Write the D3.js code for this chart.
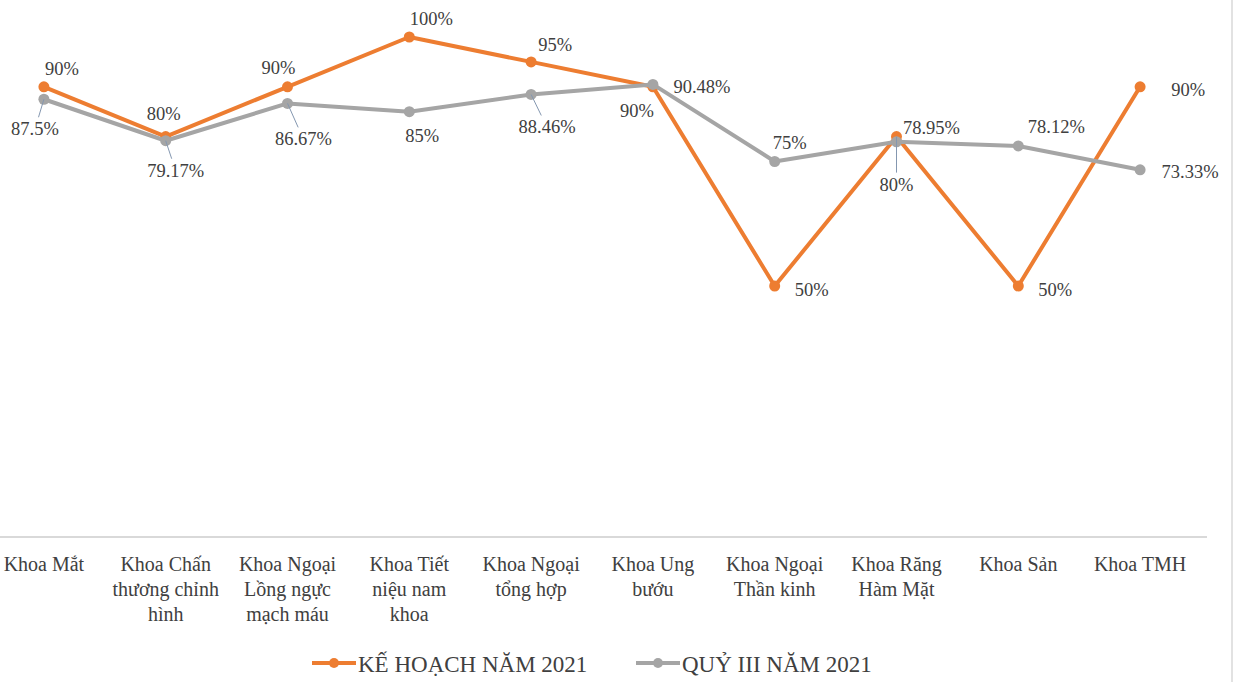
<!DOCTYPE html>
<html>
<head>
<meta charset="utf-8">
<script src="https://cdn.jsdelivr.net/npm/d3@7"></script>
<style>
  body { margin: 0; background: #fff; }
  text { font-family: "Liberation Serif", serif; }
</style>
</head>
<body>
<svg id="chart" width="1237" height="682"></svg>
<script>
var w = 1237, h = 682;

// data
var categories = ["Khoa Mắt", "Khoa Chấn thương chỉnh hình", "Khoa Ngoại Lồng ngực mạch máu",
  "Khoa Tiết niệu nam khoa", "Khoa Ngoại tổng hợp", "Khoa Ung bướu", "Khoa Ngoại Thần kinh",
  "Khoa Răng Hàm Mặt", "Khoa Sản", "Khoa TMH"];
var keHoach = [90, 80, 90, 100, 95, 90, 50, 80, 50, 90];
var quyIII = [87.5, 79.17, 86.67, 85, 88.46, 90.48, 75, 78.95, 78.12, 73.33];
var seriesNames = ["KẾ HOẠCH NĂM 2021", "QUỶ III NĂM 2021"];

// label placement (offset of the label centre from its point), as dragged in the original
var orangeOffsets = [[18,-18],[-2,-23],[-9,-19],[22,-18],[24,-17],[-16,24],[37,4],[0,48],[37,4],[48,3]];
var grayOffsets = [[-9,30],[10,30],[16,36],[13,24],[16,33],[49,3],[15,-19],[35,-14],[38,-19],[50,2]];
var orangeLeaders = [7];
var grayLeaders = [0, 1, 2, 4];

var orange = "#ED7D31", gray = "#A5A5A5", textColor = "#404040";

var svg = d3.select("#chart");

var x = d3.scaleBand().domain(categories).range([-17, 1201]);
var y = d3.scaleLinear().domain([0, 100]).range([535, 37]);
function cx(i) { return x(categories[i]) + x.bandwidth() / 2; }

// greedy word wrap, about 12 characters a line
function wrap(s) {
  var lines = [], cur = "";
  s.split(" ").forEach(function(word){
    var next = cur ? cur + " " + word : word;
    if (next.length > 12 && cur) { lines.push(cur); cur = word; }
    else cur = next;
  });
  lines.push(cur);
  return lines;
}

// right frame edge
svg.append("line").attr("x1", 1232).attr("x2", 1232).attr("y1", 0).attr("y2", h)
  .attr("stroke", "#d9d9d9").attr("stroke-width", 1.5);

// category axis line
svg.append("line").attr("x1", -17).attr("x2", 1207).attr("y1", y(0) + 2).attr("y2", y(0) + 2)
  .attr("stroke", "#d9d9d9").attr("stroke-width", 2);

// category labels
svg.append("g").selectAll("text")
  .data(categories).enter().append("text")
  .attr("text-anchor", "middle")
  .attr("font-family", "Liberation Serif")
  .attr("font-size", 20)
  .attr("fill", textColor)
  .each(function(d){
    var el = d3.select(this);
    var cxx = x(d) + x.bandwidth() / 2;
    wrap(d).forEach(function(l, k){
      el.append("tspan").attr("x", cxx).attr("y", 571 + k * 25).text(l);
    });
  });

var pathGen = d3.line()
  .x(function(d, i){ return cx(i); })
  .y(function(d){ return y(d); });

function drawSeries(values, color) {
  var g = svg.append("g");
  g.append("path").datum(values)
    .attr("d", pathGen)
    .attr("fill", "none")
    .attr("stroke", color)
    .attr("stroke-width", 4)
    .attr("stroke-linejoin", "round");
  g.selectAll("circle").data(values).enter().append("circle")
    .attr("cx", function(d, i){ return cx(i); })
    .attr("cy", function(d){ return y(d); })
    .attr("r", 5.5)
    .attr("fill", color);
}

function drawLabels(values, offsets, leaders) {
  var g = svg.append("g");
  leaders.forEach(function(i){
    var px = cx(i), py = y(values[i]);
    var lx = px + offsets[i][0], ly = py + offsets[i][1];
    var t = (Math.abs(ly - py) - 12) / Math.abs(ly - py);
    g.append("line")
      .attr("x1", px).attr("y1", py)
      .attr("x2", px + (lx - px) * t).attr("y2", py + (ly - py) * t)
      .attr("stroke", "#8497b0").attr("stroke-width", 1);
  });
  g.selectAll("text").data(values).enter().append("text")
    .attr("x", function(d, i){ return cx(i) + offsets[i][0]; })
    .attr("y", function(d, i){ return y(d) + offsets[i][1] + 6; })
    .attr("text-anchor", "middle")
    .attr("font-family", "Liberation Serif")
    .attr("font-size", 18.5)
    .attr("fill", textColor)
    .text(function(d){ return d + "%"; });
}

drawSeries(keHoach, orange);
drawSeries(quyIII, gray);
drawLabels(keHoach, orangeOffsets, orangeLeaders);
drawLabels(quyIII, grayOffsets, grayLeaders);

// legend
var legend = svg.append("g");
var legendItems = [{name: seriesNames[0], color: orange, x: 312}, {name: seriesNames[1], color: gray, x: 636}];
legendItems.forEach(function(it){
  legend.append("line").attr("x1", it.x).attr("x2", it.x + 44)
    .attr("y1", 663).attr("y2", 663)
    .attr("stroke", it.color).attr("stroke-width", 4);
  legend.append("circle").attr("cx", it.x + 22).attr("cy", 663).attr("r", 5).attr("fill", it.color);
  legend.append("text").attr("x", it.x + 46).attr("y", 672)
    .attr("font-family", "Liberation Serif")
    .attr("font-size", 23).attr("fill", textColor)
    .text(it.name);
});
</script>
</body>
</html>
